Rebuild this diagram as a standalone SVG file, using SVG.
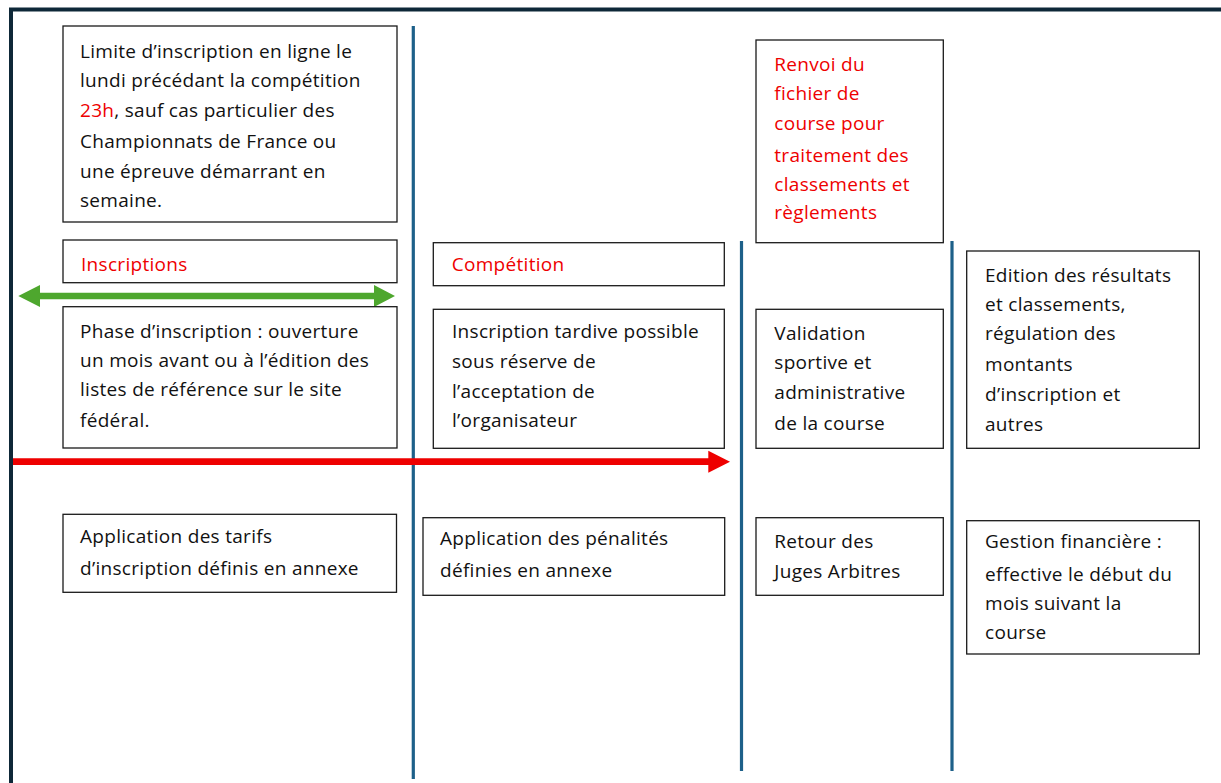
<svg xmlns="http://www.w3.org/2000/svg" width="1221" height="783" viewBox="0 0 1221 783">
<style>
.box{fill:#fff;stroke:#1a1a1a;stroke-width:1.3}
.t{font-family:"Open Sans","Liberation Sans",sans-serif;font-size:19px;letter-spacing:0.3px;fill:#111}
.r{fill:#ee0000}
.lane{stroke:#1d6089;stroke-width:3.2;fill:none}
</style>
<rect width="1221" height="783" fill="#fff"/>
<g id="frame">
<path d="M11 783 V9.5 H1221" fill="none" stroke="#0e2838" stroke-width="4"/>
</g>
<g id="lanes">
<line class="lane" x1="413.3" y1="26" x2="413.3" y2="779"/>
<line class="lane" x1="741.5" y1="241" x2="741.5" y2="771"/>
<line class="lane" x1="952" y1="241" x2="952" y2="771"/>
</g>
<g id="connectors">
<polygon fill="#4ea72e" points="18.3,296 40,285 40,292.7 374,292.7 374,285 395,296 374,307 374,299.3 40,299.3 40,307"/>
<polygon fill="#ee0000" points="13,458.3 708.3,458.3 708.3,450.7 730,461.7 708.3,472.7 708.3,465 13,465"/>
</g>
<g id="limite">
<rect class="box" x="63" y="26" width="334" height="196"/>
<text class="t" x="80" y="58.3">Limite d’inscription en ligne le</text>
<text class="t" x="80" y="87.3">lundi précédant la compétition</text>
<text class="t" x="80" y="116.7"><tspan class="r">23h</tspan>, sauf cas particulier des</text>
<text class="t" x="80" y="147.7">Championnats de France ou</text>
<text class="t" x="80" y="177.7">une épreuve démarrant en</text>
<text class="t" x="80" y="206.7">semaine.</text>
</g>
<g id="inscriptions">
<rect class="box" x="63" y="240" width="334" height="42.7"/>
<text class="t r" x="81" y="270.5">Inscriptions</text>
</g>
<g id="phase">
<rect class="box" x="63" y="306.7" width="334" height="141.3"/>
<text class="t" x="80" y="338">Phase d’inscription : ouverture</text>
<text class="t" x="80" y="366.7">un mois avant ou à l’édition des</text>
<text class="t" x="80" y="395.7">listes de référence sur le site</text>
<text class="t" x="80" y="427.3">fédéral.</text>
</g>
<g id="tarifs">
<rect class="box" x="63" y="514.3" width="333.5" height="78"/>
<text class="t" x="80" y="542.7">Application des tarifs</text>
<text class="t" x="80" y="575">d’inscription définis en annexe</text>
</g>
<g id="competition">
<rect class="box" x="433.3" y="242.7" width="291" height="43"/>
<text class="t r" x="451.7" y="270.7">Compétition</text>
</g>
<g id="tardive">
<rect class="box" x="433.3" y="309.3" width="291" height="139"/>
<text class="t" x="452" y="337.7">Inscription tardive possible</text>
<text class="t" x="452" y="368.3">sous réserve de</text>
<text class="t" x="452" y="398.3">l’acceptation de</text>
<text class="t" x="452" y="427.3">l’organisateur</text>
</g>
<g id="penalites">
<rect class="box" x="423" y="517.7" width="301.7" height="77.6"/>
<text class="t" x="440" y="545">Application des pénalités</text>
<text class="t" x="440" y="577">définies en annexe</text>
</g>
<g id="renvoi">
<rect class="box" x="756" y="40" width="187.3" height="202.7"/>
<text class="t r" x="774.3" y="71">Renvoi du</text>
<text class="t r" x="774.3" y="100">fichier de</text>
<text class="t r" x="774.3" y="130">course pour</text>
<text class="t r" x="774.3" y="161.7">traitement des</text>
<text class="t r" x="774.3" y="190.7">classements et</text>
<text class="t r" x="774.3" y="219.3">règlements</text>
</g>
<g id="validation">
<rect class="box" x="756" y="309.3" width="187.3" height="139"/>
<text class="t" x="774.3" y="340">Validation</text>
<text class="t" x="774.3" y="369">sportive et</text>
<text class="t" x="774.3" y="398.5">administrative</text>
<text class="t" x="774.3" y="430">de la course</text>
</g>
<g id="retour">
<rect class="box" x="756" y="517.7" width="187.3" height="77.6"/>
<text class="t" x="774.3" y="548.3">Retour des</text>
<text class="t" x="774.3" y="577.7">Juges Arbitres</text>
</g>
<g id="edition">
<rect class="box" x="966.7" y="251" width="232.6" height="197.3"/>
<text class="t" x="985" y="281.7">Edition des résultats</text>
<text class="t" x="985" y="311">et classements,</text>
<text class="t" x="985" y="340">régulation des</text>
<text class="t" x="985" y="371">montants</text>
<text class="t" x="985" y="401">d’inscription et</text>
<text class="t" x="985" y="430.5">autres</text>
</g>
<g id="gestion">
<rect class="box" x="966.7" y="520.7" width="232.6" height="133.3"/>
<text class="t" x="985" y="548.3">Gestion financière :</text>
<text class="t" x="985" y="581">effective le début du</text>
<text class="t" x="985" y="609.5">mois suivant la</text>
<text class="t" x="985" y="638.5">course</text>
</g>
</svg>
